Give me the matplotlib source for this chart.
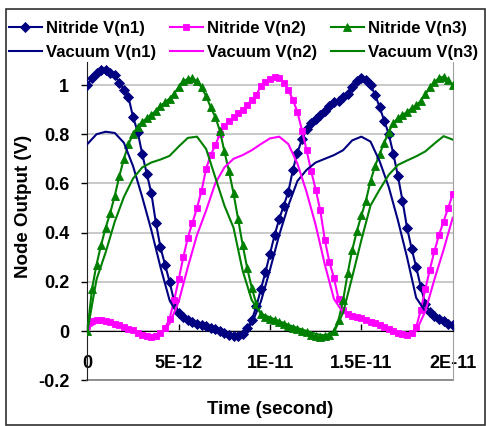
import numpy as np
import matplotlib
matplotlib.use('Agg')
import matplotlib.pyplot as plt
from matplotlib.patches import Rectangle
from matplotlib.ticker import FuncFormatter, FixedLocator

plt.rcParams['font.family'] = ['Liberation Sans', 'DejaVu Sans']
plt.rcParams['font.weight'] = 'bold'

# sample times in picoseconds
T_NITRIDE_PS = np.linspace(0.0, 20.0, 81)
T_VACUUM_PS = np.linspace(0.0, 20.0, 41)

NITRIDE_N1 = [
    1.00, 1.03, 1.05, 1.06, 1.06, 1.05, 1.04, 1.01, 0.98, 0.95,
    0.87, 0.81, 0.72, 0.64, 0.56, 0.44, 0.34, 0.27, 0.20, 0.12,
    0.075, 0.055, 0.045, 0.038, 0.030, 0.025, 0.020, 0.013, 0.008, 0.000,
    -0.008, -0.015, -0.022, -0.022, -0.012, 0.013, 0.045, 0.10, 0.17, 0.24,
    0.315, 0.39, 0.455, 0.51, 0.565, 0.655, 0.725, 0.78, 0.82, 0.845,
    0.86, 0.88, 0.895, 0.915, 0.93, 0.935, 0.95, 0.965, 0.99, 1.015,
    1.03, 1.02, 1.00, 0.96, 0.91, 0.855, 0.80, 0.72, 0.63, 0.53,
    0.42, 0.335, 0.26, 0.18, 0.11, 0.078, 0.062, 0.050, 0.040, 0.030,
    0.025,
]
NITRIDE_N2 = [
    0.020, 0.040, 0.045, 0.045, 0.040, 0.036, 0.030, 0.025, 0.018, 0.010,
    0.004, -0.008, -0.016, -0.022, -0.023, -0.020, -0.010, 0.012, 0.050, 0.125,
    0.21, 0.30, 0.38, 0.44, 0.50, 0.57, 0.66, 0.715, 0.755, 0.80,
    0.835, 0.853, 0.87, 0.885, 0.90, 0.92, 0.94, 0.96, 0.995, 1.012,
    1.025, 1.033, 1.028, 1.01, 0.98, 0.94, 0.89, 0.815, 0.735, 0.65,
    0.575, 0.49, 0.37, 0.28, 0.215, 0.13, 0.085, 0.070, 0.063, 0.058,
    0.052, 0.045, 0.038, 0.031, 0.025, 0.018, 0.010, 0.000, -0.009, -0.014,
    -0.016, -0.010, 0.015, 0.085, 0.17, 0.25, 0.325, 0.39, 0.445, 0.50,
    0.555,
]
NITRIDE_N3 = [
    0.000, 0.17, 0.27, 0.35, 0.42, 0.48, 0.55, 0.63, 0.70, 0.76,
    0.80, 0.83, 0.85, 0.865, 0.88, 0.895, 0.915, 0.93, 0.945, 0.965,
    0.99, 1.015, 1.025, 1.027, 1.015, 0.99, 0.955, 0.91, 0.87, 0.815,
    0.73, 0.65, 0.56, 0.455, 0.35, 0.255, 0.175, 0.11, 0.070, 0.058,
    0.050, 0.043, 0.035, 0.028, 0.020, 0.014, 0.008, 0.000, -0.006, -0.015,
    -0.022, -0.024, -0.022, -0.015, 0.000, 0.045, 0.125, 0.235, 0.33, 0.405,
    0.47, 0.53, 0.61, 0.67, 0.72, 0.765, 0.81, 0.845, 0.865, 0.878,
    0.89, 0.905, 0.918, 0.935, 0.962, 0.99, 1.012, 1.028, 1.034, 1.02,
    1.00,
]

VACUUM_N1 = [
    0.76, 0.80, 0.81, 0.805, 0.765, 0.67, 0.545, 0.41, 0.26, 0.125,
    0.060, 0.042, 0.030, 0.020, 0.010, -0.005, -0.015, -0.010, 0.030, 0.12,
    0.25, 0.39, 0.51, 0.61, 0.655, 0.685, 0.70, 0.715, 0.735, 0.775,
    0.79, 0.77, 0.69, 0.585, 0.45, 0.30, 0.135, 0.080, 0.058, 0.040,
    0.028,
]
VACUUM_N2 = [
    0.010, 0.035, 0.035, 0.028, 0.018, 0.005, -0.010, -0.018, -0.012, 0.030,
    0.12, 0.26, 0.39, 0.49, 0.60, 0.665, 0.70, 0.715, 0.735, 0.76,
    0.783, 0.79, 0.76, 0.68, 0.565, 0.43, 0.27, 0.13, 0.075, 0.060,
    0.050, 0.038, 0.025, 0.012, -0.004, -0.012, 0.000, 0.080, 0.21, 0.33,
    0.46,
]
VACUUM_N3 = [
    0.000, 0.21, 0.32, 0.445, 0.545, 0.62, 0.665, 0.685, 0.697, 0.712,
    0.75, 0.785, 0.79, 0.74, 0.625, 0.51, 0.42, 0.245, 0.125, 0.070,
    0.055, 0.040, 0.025, 0.012, 0.000, -0.012, -0.018, -0.005, 0.075, 0.22,
    0.37, 0.51, 0.575, 0.635, 0.675, 0.693, 0.71, 0.73, 0.762, 0.792,
    0.778,
]

X_TICKS = [0, 5e-12, 1e-11, 1.5e-11, 2e-11]
Y_TICKS = [-0.2, 0, 0.2, 0.4, 0.6, 0.8, 1.0]

NODES = ('n1', 'n2', 'n3')
COLORS = ('#000080', '#FF00FF', '#008000')
MARKERS = (('D', 5.0), ('s', 5.0), ('^', 6.0))


def excel_sci(value, pos):
    """Format tick values like 5E-12."""
    if value == 0:
        return '0'
    mantissa, exponent = f'{value:.1E}'.split('E')
    mantissa = mantissa.rstrip('0').rstrip('.')
    return f'{mantissa}E{int(exponent)}'


fig = plt.figure(figsize=(4.86, 4.26), dpi=100)
W, H = 486.0, 426.0
ax = fig.add_axes([87.4 / W, 45.8 / H, (452.7 - 87.4) / W, (390.2 - 45.8) / H])

t_nitride = T_NITRIDE_PS * 1e-12
t_vacuum = T_VACUUM_PS * 1e-12

handles = []
for node, color, (marker, size), nitride, vacuum in zip(
        NODES, COLORS, MARKERS,
        (NITRIDE_N1, NITRIDE_N2, NITRIDE_N3),
        (VACUUM_N1, VACUUM_N2, VACUUM_N3)):
    h_nit, = ax.plot(t_nitride, nitride, color=color, lw=1.5, marker=marker,
                     ms=size, mec=color, mfc=color, mew=0.6,
                     label=f'Nitride V({node})', zorder=3)
    h_vac, = ax.plot(t_vacuum, vacuum, color=color, lw=1.5,
                     label=f'Vacuum V({node})', zorder=4)
    handles += [h_nit, h_vac]

ax.set_xlim(0, 2e-11)
ax.set_ylim(-0.2, 1.2)
ax.xaxis.set_major_locator(FixedLocator(X_TICKS))
ax.xaxis.set_major_formatter(FuncFormatter(excel_sci))
ax.yaxis.set_major_locator(FixedLocator(Y_TICKS))
ax.yaxis.set_major_formatter(FuncFormatter(lambda v, p: f'{v:g}'))

ax.yaxis.grid(True, color='#c0c0c0', lw=1.2)
ax.set_axisbelow(True)

ax.spines['bottom'].set_position(('data', 0))
ax.spines['bottom'].set_color('black')
ax.spines['bottom'].set_zorder(2.5)
ax.spines['left'].set_color('#202020')
ax.spines['right'].set_color('#a0a0a0')
ax.spines['top'].set_visible(False)
ax.axhline(-0.2, color='#808080', lw=1.2, clip_on=False)

ax.tick_params(axis='x', direction='in', length=5, width=1, pad=17,
               labelsize=13, colors='black')
ax.tick_params(axis='y', direction='out', length=4, width=1, pad=9,
               labelsize=13, colors='black')

fig.text(270 / W, 1 - 409 / H, 'Time (second)', ha='center', va='center',
         fontsize=13.5, fontweight='bold')
fig.text(23 / W, 1 - 206 / H, 'Node Output (V)', ha='center', va='center',
         rotation=90, fontsize=13.5, fontweight='bold')

# legend sits over the top strip of the plot area, as in the original layout
fig.legend(handles=handles, ncol=3, loc='upper left',
           bbox_to_anchor=(7 / W, 1 - 19 / H), borderaxespad=0,
           fontsize=12, numpoints=1, handlelength=2.0, handletextpad=0.25,
           columnspacing=0.8, labelspacing=0.55, borderpad=0.1,
           frameon=True, fancybox=False, framealpha=1,
           facecolor='white', edgecolor='none')

fig.patches.append(Rectangle((6 / W, 1 / H), 479 / W, 416 / H,
                             transform=fig.transFigure, fill=False,
                             edgecolor='#303030', lw=1.2))

fig.savefig('out.png', dpi=100)
